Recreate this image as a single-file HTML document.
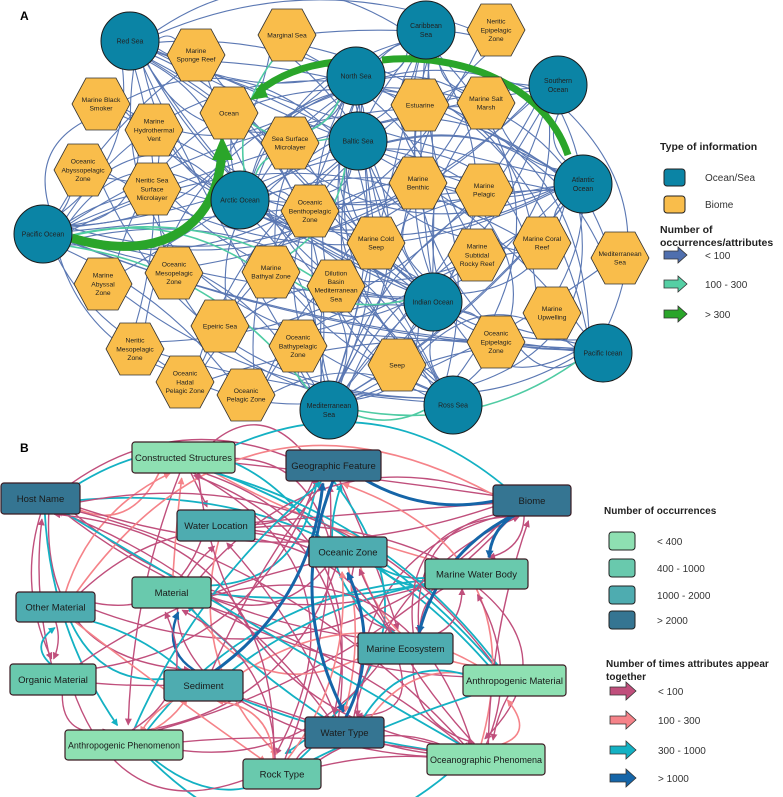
<!DOCTYPE html>
<html><head><meta charset="utf-8"><style>
html,body{margin:0;padding:0;background:#fff}
svg{display:block}
text{font-family:"Liberation Sans",Arial,sans-serif}
</style></head><body>
<svg id="s" width="783" height="797" viewBox="0 0 783 797" xmlns="http://www.w3.org/2000/svg">
<defs>
<marker id="mb" markerWidth="6" markerHeight="6" refX="5" refY="3" orient="auto" markerUnits="userSpaceOnUse"><path d="M0,0L6,3L0,6z" fill="#5b78b3"/></marker>
<marker id="mt" markerWidth="7" markerHeight="7" refX="6" refY="3.5" orient="auto" markerUnits="userSpaceOnUse"><path d="M0,0L7,3.5L0,7z" fill="#4fcba3"/></marker>
<marker id="m1" markerWidth="7" markerHeight="7" refX="6" refY="3.5" orient="auto" markerUnits="userSpaceOnUse"><path d="M0,0L7,3.5L0,7z" fill="#c04f7c"/></marker>
<marker id="m2" markerWidth="7" markerHeight="7" refX="6" refY="3.5" orient="auto" markerUnits="userSpaceOnUse"><path d="M0,0L7,3.5L0,7z" fill="#f58389"/></marker>
<marker id="m3" markerWidth="7" markerHeight="7" refX="6" refY="3.5" orient="auto" markerUnits="userSpaceOnUse"><path d="M0,0L7,3.5L0,7z" fill="#14b1c3"/></marker>
<marker id="m4" markerWidth="8" markerHeight="8" refX="7" refY="4" orient="auto" markerUnits="userSpaceOnUse"><path d="M0,0L8,4L0,8z" fill="#1565a8"/></marker>
</defs>
<g id="edgesA"></g>
<!-- thick green -->
<path d="M72,238 C150,262 218,235 222,150" stroke="#2aa52a" stroke-width="9" fill="none"/>
<path d="M212,160 L222,136 L233,160 z" fill="#2aa52a"/>
<path d="M335,62 C300,66 275,78 258,92" stroke="#2aa52a" stroke-width="7" fill="none"/>
<path d="M250,100 L262,82 L268,97 z" fill="#2aa52a"/>
<path d="M382,60 C460,52 545,85 568,155" stroke="#2aa52a" stroke-width="7" fill="none"/>
<g id="edgesB"></g>
<g id="nodes"></g>

<text x="20" y="20" font-size="12" font-weight="bold">A</text>
<text x="20" y="452" font-size="12" font-weight="bold">B</text>

<!-- Legend A -->
<text x="660" y="150" font-size="10.5" font-weight="bold" fill="#222">Type of information</text>
<rect x="664" y="169" width="21" height="17" rx="3" fill="#0b84a5" stroke="#222"/>
<text x="705" y="181" font-size="10" fill="#333">Ocean/Sea</text>
<rect x="664" y="196" width="21" height="17" rx="3" fill="#f9bd4b" stroke="#222"/>
<text x="705" y="208" font-size="10" fill="#333">Biome</text>
<text x="660" y="233" font-size="10.5" font-weight="bold" fill="#222">Number of</text>
<text x="660" y="246" font-size="10.5" font-weight="bold" fill="#222">occurrences/attributes</text>
<g stroke="#333" stroke-width="0.8">
<path d="M664,251h14v-4l9,8l-9,8v-4h-14z" fill="#4f6fae"/>
<path d="M664,280h14v-4l9,8l-9,8v-4h-14z" fill="#55cfa4"/>
<path d="M664,310h14v-4l9,8l-9,8v-4h-14z" fill="#2aa52a"/>
</g>
<text x="705" y="259" font-size="10" fill="#333">&lt; 100</text>
<text x="705" y="288" font-size="10" fill="#333">100 - 300</text>
<text x="705" y="318" font-size="10" fill="#333">&gt; 300</text>

<!-- Legend B -->
<text x="604" y="514" font-size="10" font-weight="bold" fill="#222">Number of occurrences</text>
<rect x="609" y="532" width="26" height="18" rx="3" fill="#8ee0b2" stroke="#222"/>
<rect x="609" y="559" width="26" height="18" rx="3" fill="#69c9ad" stroke="#222"/>
<rect x="609" y="586" width="26" height="18" rx="3" fill="#4eacb0" stroke="#222"/>
<rect x="609" y="611" width="26" height="18" rx="3" fill="#357592" stroke="#222"/>
<text x="657" y="545" font-size="10" fill="#333">&lt; 400</text>
<text x="657" y="572" font-size="10" fill="#333">400 - 1000</text>
<text x="657" y="599" font-size="10" fill="#333">1000 - 2000</text>
<text x="657" y="624" font-size="10" fill="#333">&gt; 2000</text>
<text x="606" y="667" font-size="10" font-weight="bold" fill="#222">Number of times attributes appear</text>
<text x="606" y="680" font-size="10" font-weight="bold" fill="#222">together</text>
<g stroke="#333" stroke-width="0.8">
<path d="M610,687h16v-5l10,9l-10,9v-5h-16z" fill="#c04f7c"/>
<path d="M610,716h16v-5l10,9l-10,9v-5h-16z" fill="#f58389"/>
<path d="M610,746h16v-5l10,9l-10,9v-5h-16z" fill="#14b1c3"/>
<path d="M610,774h16v-5l10,9l-10,9v-5h-16z" fill="#1565a8"/>
</g>
<text x="658" y="695" font-size="10" fill="#333">&lt; 100</text>
<text x="658" y="724" font-size="10" fill="#333">100 - 300</text>
<text x="658" y="754" font-size="10" fill="#333">300 - 1000</text>
<text x="658" y="782" font-size="10" fill="#333">&gt; 1000</text>
</svg>
<script>
(function(){
var NS="http://www.w3.org/2000/svg";
function el(t,a,p){var e=document.createElementNS(NS,t);for(var k in a)e.setAttribute(k,a[k]);p.appendChild(e);return e;}
var circ=[["Red Sea",130,41],["North Sea",356,76],["Baltic Sea",358,141],["Arctic Ocean",240,200],["Pacific Ocean",43,234],["Caribbean Sea",426,30],["Southern Ocean",558,85],["Atlantic Ocean",583,184],["Indian Ocean",433,302],["Pacific Icean",603,353],["Mediterranean Sea",329,410],["Ross Sea",453,405]];
var hex=[["Marginal Sea",287,35],["Marine Sponge Reef",196,55],["Marine Black Smoker",101,104],["Marine Hydrothermal Vent",154,130],["Ocean",229,113],["Oceanic Abyssopelagic Zone",83,170],["Neritic Sea Surface Microlayer",152,189],["Sea Surface Microlayer",290,143],["Oceanic Benthopelagic Zone",310,211],["Marine Cold Seep",376,243],["Oceanic Mesopelagic Zone",174,273],["Marine Bathyal Zone",271,272],["Marine Abyssal Zone",103,284],["Dilution Basin Mediterranean Sea",336,286],["Epeiric Sea",220,326],["Oceanic Bathypelagic Zone",298,346],["Neritic Mesopelagic Zone",135,349],["Oceanic Hadal Pelagic Zone",185,382],["Oceanic Pelagic Zone",246,395],["Seep",397,365],["Neritic Epipelagic Zone",496,30],["Estuarine",420,105],["Marine Salt Marsh",486,103],["Marine Benthic",418,183],["Marine Pelagic",484,190],["Marine Subtidal Rocky Reef",477,255],["Marine Coral Reef",542,243],["Mediterranean Sea",620,258],["Marine Upwelling",552,313],["Oceanic Epipelagic Zone",496,342]];
var lines={"Red Sea":["Red Sea"],"North Sea":["North Sea"],"Baltic Sea":["Baltic Sea"],"Arctic Ocean":["Arctic Ocean"],"Pacific Ocean":["Pacific Ocean"],"Caribbean Sea":["Caribbean","Sea"],"Southern Ocean":["Southern","Ocean"],"Atlantic Ocean":["Atlantic","Ocean"],"Indian Ocean":["Indian Ocean"],"Pacific Icean":["Pacific Icean"],"Mediterranean Sea":["Mediterranean","Sea"],"Ross Sea":["Ross Sea"],
"Marginal Sea":["Marginal Sea"],"Marine Sponge Reef":["Marine","Sponge Reef"],"Marine Black Smoker":["Marine Black","Smoker"],"Marine Hydrothermal Vent":["Marine","Hydrothermal","Vent"],"Ocean":["Ocean"],"Oceanic Abyssopelagic Zone":["Oceanic","Abyssopelagic","Zone"],"Neritic Sea Surface Microlayer":["Neritic Sea","Surface","Microlayer"],"Sea Surface Microlayer":["Sea Surface","Microlayer"],"Oceanic Benthopelagic Zone":["Oceanic","Benthopelagic","Zone"],"Marine Cold Seep":["Marine Cold","Seep"],"Oceanic Mesopelagic Zone":["Oceanic","Mesopelagic","Zone"],"Marine Bathyal Zone":["Marine","Bathyal Zone"],"Marine Abyssal Zone":["Marine","Abyssal","Zone"],"Dilution Basin Mediterranean Sea":["Dilution","Basin","Mediterranean","Sea"],"Epeiric Sea":["Epeiric Sea"],"Oceanic Bathypelagic Zone":["Oceanic","Bathypelagic","Zone"],"Neritic Mesopelagic Zone":["Neritic","Mesopelagic","Zone"],"Oceanic Hadal Pelagic Zone":["Oceanic","Hadal","Pelagic Zone"],"Oceanic Pelagic Zone":["Oceanic","Pelagic Zone"],"Seep":["Seep"],"Neritic Epipelagic Zone":["Neritic","Epipelagic","Zone"],"Estuarine":["Estuarine"],"Marine Salt Marsh":["Marine Salt","Marsh"],"Marine Benthic":["Marine","Benthic"],"Marine Pelagic":["Marine","Pelagic"],"Marine Subtidal Rocky Reef":["Marine","Subtidal","Rocky Reef"],"Marine Coral Reef":["Marine Coral","Reef"],"Marine Upwelling":["Marine","Upwelling"],"Oceanic Epipelagic Zone":["Oceanic","Epipelagic","Zone"]};
var seed=7;function rnd(){seed=(seed*16807)%2147483647;return seed/2147483647;}
var A=circ.concat(hex);
var gA=document.getElementById("edgesA"),gB=document.getElementById("edgesB"),gN=document.getElementById("nodes");
function curve(g,x1,y1,x2,y2,col,w,mk,bend){
 var dx=x2-x1,dy=y2-y1,L=Math.sqrt(dx*dx+dy*dy)||1;
 var r=13/L; var sx=x1+dx*r,sy=y1+dy*r,ex=x2-dx*r*1.6,ey=y2-dy*r*1.6;
 var mx=(sx+ex)/2-dy*bend,my=(sy+ey)/2+dx*bend;
 el("path",{d:"M"+sx+","+sy+"Q"+mx+","+my+" "+ex+","+ey,stroke:col,"stroke-width":w,fill:"none","marker-end":"url(#"+mk+")"},g);
}
for(var i=0;i<circ.length;i++){
 for(var j=0;j<A.length;j++){
  if(i==j)continue;
  var p=(i<5||i==7||i==10||i==8)?0.45:0.26;
  if(rnd()<p){var a=circ[i],b=A[j];var f=rnd()<0.5;
   var s=f?a:b,t=f?b:a;
   curve(gA,s[1],s[2],t[1],t[2],"#5b78b3",1.1,"mb",(rnd()-0.5)*0.9);}
 }
}
var teal=[[4,10],[4,23],[3,12],[2,16],[1,19],[8,23],[9,10],[11,10],[4,25],[2,23],[3,19]];
teal.forEach(function(e){var a=A[e[0]],b=A[e[1]];curve(gA,b[1],b[2],a[1],a[2],"#4fcba3",1.6,"mt",0.2);});
circ.forEach(function(c){el("circle",{cx:c[1],cy:c[2],r:29,fill:"#0b84a5",stroke:"#1a1a1a","stroke-width":1},gN);lbl(c,6.9);});
hex.forEach(function(h){var x=h[1],y=h[2];el("polygon",{points:[x-29,y,x-15,y-26,x+15,y-26,x+29,y,x+15,y+26,x-15,y+26].join(","),fill:"#f9bd4b",stroke:"#333","stroke-width":0.8},gN);lbl(h,6.7);});
function lbl(n,fs){var ls=lines[n[0]],lh=fs*1.3,y0=n[2]-(ls.length-1)*lh/2+fs*0.35;
 ls.forEach(function(s,k){var t=el("text",{x:n[1],y:y0+k*lh,"font-size":fs,"text-anchor":"middle",fill:"#222"},gN);t.textContent=s;});}
var R=[["Constructed Structures",132,442,103,31,"#8ee0b2"],["Geographic Feature",286,450,95,31,"#357592"],["Host Name",1,483,79,31,"#357592"],["Biome",493,485,78,31,"#357592"],["Water Location",177,510,78,31,"#4eacb0"],["Oceanic Zone",309,537,78,30,"#4eacb0"],["Marine Water Body",425,559,103,30,"#69c9ad"],["Material",132,577,79,31,"#69c9ad"],["Other Material",16,592,79,30,"#4eacb0"],["Marine Ecosystem",358,633,95,31,"#4eacb0"],["Organic Material",10,664,86,31,"#69c9ad"],["Sediment",164,670,79,31,"#4eacb0"],["Anthropogenic Material",463,665,103,31,"#8ee0b2"],["Water Type",305,717,79,31,"#357592"],["Anthropogenic Phenomenon",65,730,118,30,"#8ee0b2"],["Oceanographic Phenomena",427,744,118,31,"#8ee0b2"],["Rock Type",243,759,78,30,"#69c9ad"]];
var cB=[["#c04f7c",1.4,"m1",0.62],["#f58389",1.6,"m2",0.16],["#14b1c3",1.8,"m3",0.2],["#1565a8",2.4,"m4",0.02]];
for(var i=0;i<R.length;i++)for(var j=0;j<R.length;j++){if(i==j)continue;
 if(rnd()<0.42){var r=rnd(),k=r<cB[0][3]?0:r<cB[0][3]+cB[1][3]?1:r<0.98?2:3;
  var a=R[i],b=R[j];curve(gB,a[1]+a[3]/2,a[2]+a[4]/2,b[1]+b[3]/2,b[2]+b[4]/2,cB[k][0],cB[k][1],cB[k][2],(rnd()-0.5)*1.0);}}
[[1,3],[1,13],[3,6],[3,9],[11,1],[13,5]].forEach(function(e){var a=R[e[0]],b=R[e[1]];curve(gB,a[1]+a[3]/2,a[2]+a[4]/2,b[1]+b[3]/2,b[2]+b[4]/2,"#1565a8",3,"m4",0.2);});
R.forEach(function(n){el("rect",{x:n[1],y:n[2],width:n[3],height:n[4],rx:3,fill:n[5],stroke:"#3a1a22","stroke-width":1.2},gN);
 var t=el("text",{x:n[1]+n[3]/2,y:n[2]+n[4]/2+3.5,"font-size":9.5,"text-anchor":"middle",fill:"#1a1a1a"},gN);t.textContent=n[0];
 try{var w=t.getComputedTextLength();if(w>n[3]-6){t.setAttribute("textLength",n[3]-6);t.setAttribute("lengthAdjust","spacingAndGlyphs");}}catch(e){}
});
})();
</script>
</body></html>
